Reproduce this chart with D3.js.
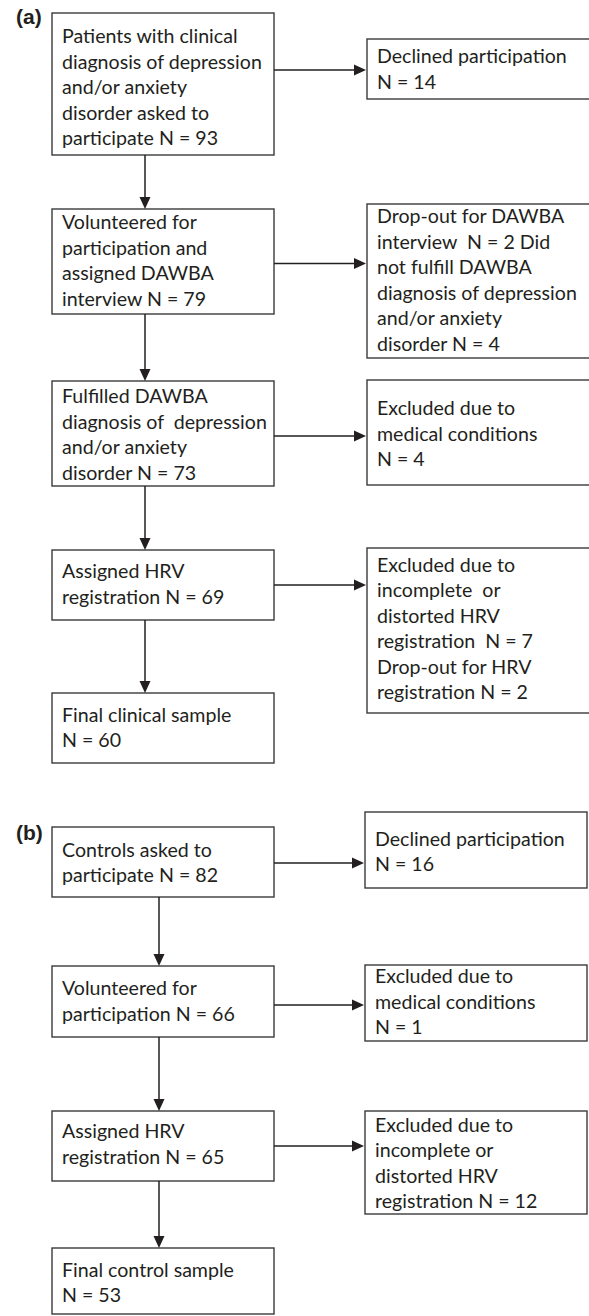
<!DOCTYPE html>
<html>
<head>
<meta charset="utf-8">
<script src="https://cdn.jsdelivr.net/npm/d3@7"></script>
<style>
  html, body { margin: 0; padding: 0; background: #fff; }
  svg { display: block; }
</style>
</head>
<body>
<svg id="chart" width="589" height="1316"></svg>
<script>
// ---------- DATA (texts) ----------
const panelLabels = ["(a)", "(b)"];

const mainTextA = [
  ["Patients with clinical", "diagnosis of depression", "and/or anxiety", "disorder asked to", "participate N = 93"],
  ["Volunteered for", "participation and", "assigned DAWBA", "interview N = 79"],
  ["Fulfilled DAWBA", "diagnosis of  depression", "and/or anxiety", "disorder N = 73"],
  ["Assigned HRV", "registration N = 69"],
  ["Final clinical sample", "N = 60"]
];
const sideTextA = [
  ["Declined participation", "N = 14"],
  ["Drop-out for DAWBA", "interview  N = 2 Did", "not fulfill DAWBA", "diagnosis of depression", "and/or anxiety", "disorder N = 4"],
  ["Excluded due to", "medical conditions", "N = 4"],
  ["Excluded due to", "incomplete  or", "distorted HRV", "registration  N = 7", "Drop-out for HRV", "registration N = 2"]
];
const mainTextB = [
  ["Controls asked to", "participate N = 82"],
  ["Volunteered for", "participation N = 66"],
  ["Assigned HRV", "registration N = 65"],
  ["Final control sample", "N = 53"]
];
const sideTextB = [
  ["Declined participation", "N = 16"],
  ["Excluded due to", "medical conditions", "N = 1"],
  ["Excluded due to", "incomplete or", "distorted HRV", "registration N = 12"]
];

// ---------- LAYOUT (positions, kept separate from data) ----------
const layout = {
  a: {
    label: {x: 16, y: 24},
    mainX: [52, 274], sideX: [367, 591], vx: 145,
    main: [[13, 155, 43.3], [209, 314, 229.3], [381, 486, 403.3], [550, 620, 578.3], [693, 763, 721.7]],
    side: [[39, 99, 63], [204, 358, 223.3], [380, 485, 415], [548, 713, 571.7]],
    arrowY: [70, 263.5, 436, 585]
  },
  b: {
    label: {x: 16, y: 840},
    mainX: [52, 274], sideX: [365, 587], vx: 159,
    main: [[827, 897, 856.7], [966, 1037, 995], [1111, 1181, 1138.3], [1248, 1314, 1276.7]],
    side: [[812, 888, 845.7], [965, 1041, 983.3], [1111, 1214, 1131.7]],
    arrowY: [863, 1005, 1146]
  }
};
const lineGap = 25.5;
const textPad = 10;
const ink = "#231f20";
const boxStroke = "#3a3a3a";

const svg = d3.select("#chart");
const fontFamily = "Lato, 'Open Sans', sans-serif";

// fit font size so a reference line has the reference width seen in the picture
const probe = svg.append("text").attr("font-family", fontFamily).attr("font-size", 20).text("diagnosis of depression");
const w20 = probe.node().getComputedTextLength();
probe.remove();
const fontSize = 20 * 200 / w20;

const yId = d3.scaleIdentity();
const xId = d3.scaleIdentity();

function drawPanel(L, mainText, sideText, label) {
  const g = svg.append("g");
  g.append("text")
    .attr("x", xId(L.label.x)).attr("y", yId(L.label.y))
    .attr("font-family", "'Liberation Sans', Arial, sans-serif")
    .attr("font-weight", "bold").attr("font-size", 21)
    .attr("fill", ink).text(label);

  function box(x0, x1, spec, lines) {
    const [t, b, base] = spec;
    g.append("rect")
      .attr("x", xId(x0)).attr("y", yId(t))
      .attr("width", x1 - x0).attr("height", b - t)
      .attr("fill", "none").attr("stroke", boxStroke).attr("stroke-width", 1.4);
    const tx = g.append("text")
      .attr("font-family", fontFamily).attr("font-size", fontSize).attr("fill", ink)
      .attr("xml:space", "preserve");
    tx.selectAll("tspan").data(lines).join("tspan")
      .attr("x", xId(x0 + textPad))
      .attr("y", (d, i) => yId(base + i * lineGap))
      .text(d => d);
  }

  mainText.forEach((lines, i) => box(L.mainX[0], L.mainX[1], L.main[i], lines));
  sideText.forEach((lines, i) => box(L.sideX[0], L.sideX[1], L.side[i], lines));

  const headL = 12, headW = 5.5;
  // vertical arrows
  for (let i = 0; i < mainText.length - 1; i++) {
    const y0 = L.main[i][1], y1 = L.main[i + 1][0];
    g.append("line").attr("x1", L.vx).attr("x2", L.vx).attr("y1", y0).attr("y2", y1 - headL + 1)
      .attr("stroke", ink).attr("stroke-width", 1.5);
    g.append("path")
      .attr("d", `M${L.vx - headW},${y1 - headL} L${L.vx + headW},${y1 - headL} L${L.vx},${y1} Z`)
      .attr("fill", ink);
  }
  // horizontal arrows
  L.arrowY.forEach((y) => {
    const x0 = L.mainX[1], x1 = L.sideX[0] - 1;
    g.append("line").attr("x1", x0).attr("x2", x1 - headL + 1).attr("y1", y).attr("y2", y)
      .attr("stroke", ink).attr("stroke-width", 1.5);
    g.append("path")
      .attr("d", `M${x1 - headL},${y - headW} L${x1 - headL},${y + headW} L${x1},${y} Z`)
      .attr("fill", ink);
  });
}

drawPanel(layout.a, mainTextA, sideTextA, panelLabels[0]);
drawPanel(layout.b, mainTextB, sideTextB, panelLabels[1]);
</script>
</body>
</html>
